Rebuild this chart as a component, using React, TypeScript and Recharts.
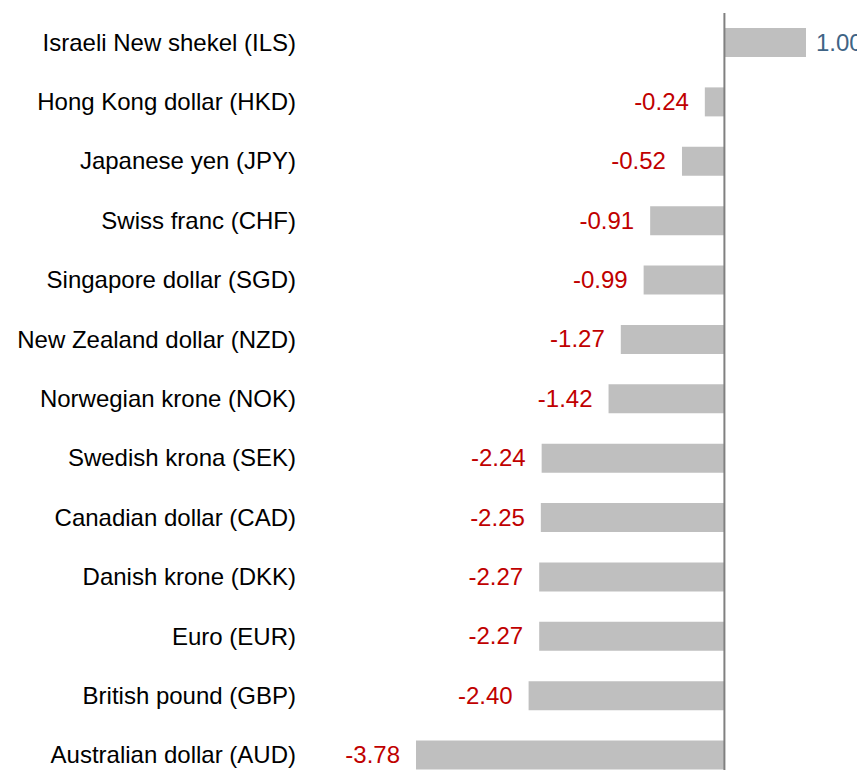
import { BarChart, Bar, XAxis, YAxis, ReferenceLine, LabelList } from "recharts";

const currencies = [
  "Israeli New shekel (ILS)",
  "Hong Kong dollar (HKD)",
  "Japanese yen (JPY)",
  "Swiss franc (CHF)",
  "Singapore dollar (SGD)",
  "New Zealand dollar (NZD)",
  "Norwegian krone (NOK)",
  "Swedish krona (SEK)",
  "Canadian dollar (CAD)",
  "Danish krone (DKK)",
  "Euro (EUR)",
  "British pound (GBP)",
  "Australian dollar (AUD)",
];

const changes = [1.0, -0.24, -0.52, -0.91, -0.99, -1.27, -1.42, -2.24, -2.25, -2.27, -2.27, -2.4, -3.78];

const data = currencies.map((name, i) => ({ name, value: changes[i] }));

const FONT = "Liberation Sans, Arial, sans-serif";

// category names sit well left of the plot area, right-aligned
const CategoryTick = (props: any) => {
  const { y, payload } = props;
  return (
    <text x={288} y={y} dy={8} textAnchor="end" fontSize={24} fontFamily={FONT} fill="#000">
      {payload.value}
    </text>
  );
};

const ValueLabel = (props: any) => {
  const { x, y, width, height, value } = props;
  const left = Math.min(x, x + width);
  const right = Math.max(x, x + width);
  const cy = y + height / 2;
  const neg = value < 0;
  return (
    <text
      x={neg ? left - 16 : right + 10}
      y={cy}
      dy={8}
      textAnchor={neg ? "end" : "start"}
      fontSize={24}
      fontFamily={FONT}
      fill={neg ? "#c00000" : "#3f6485"}
    >
      {Number(value).toFixed(2)}
    </text>
  );
};

export default function App() {
  return (
    // the plot runs past the bottom of the page, so crop it vertically
    <div style={{ width: 865, height: 770, marginBottom: -8, overflow: "hidden" }}>
      <style>{`body { overflow: hidden; }`}</style>
      <BarChart
        width={865}
        height={777}
        data={data}
        layout="vertical"
        margin={{ top: 5, right: 67, bottom: 0, left: 0 }}
        barCategoryGap={0}
      >
        <XAxis type="number" domain={[-3.78, 1]} hide />
        <YAxis
          type="category"
          dataKey="name"
          width={408}
          axisLine={false}
          tickLine={false}
          tick={<CategoryTick />}
          interval={0}
        />
        <Bar dataKey="value" fill="#bfbfbf" barSize={29} isAnimationActive={false}>
          <LabelList dataKey="value" content={<ValueLabel />} />
        </Bar>
        <ReferenceLine x={0} stroke="#808080" strokeWidth={2} />
      </BarChart>
    </div>
  );
}
